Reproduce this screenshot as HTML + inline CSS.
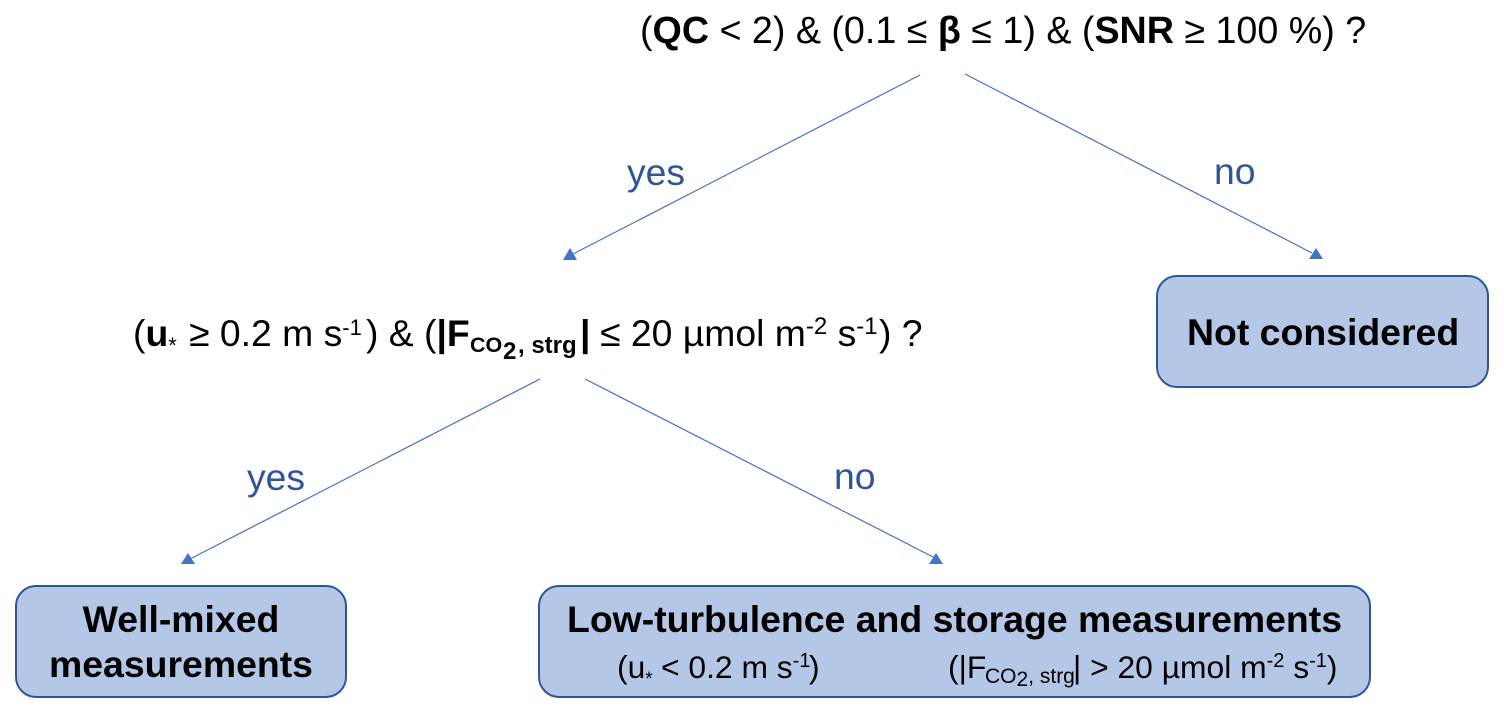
<!DOCTYPE html>
<html><head><meta charset="utf-8">
<style>
html,body{margin:0;padding:0;background:#fff;width:1504px;height:713px;overflow:hidden}
svg{display:block}
text{font-family:"Liberation Sans",sans-serif;fill:#000}
.b{font-weight:bold}
.t{font-size:37.65px}
.m{font-size:37.33px}
.h{font-size:37.4px;font-weight:bold}
.s{font-size:31.8px}
.l{font-size:37.33px;fill:#2f5597}
</style></head><body>
<svg width="1504" height="713" viewBox="0 0 1504 713" xmlns="http://www.w3.org/2000/svg">
<g fill="#b4c7e7" stroke="#2f5597" stroke-width="2">
<rect x="1157" y="276" width="331" height="111" rx="20"/>
<rect x="16" y="586" width="330" height="111" rx="20"/>
<rect x="539" y="586" width="831" height="111" rx="20"/>
</g>
<g stroke="#4472c4" stroke-width="1.2">
<line x1="920" y1="75" x2="573" y2="254"/>
<line x1="965" y1="74" x2="1312" y2="253"/>
<line x1="540" y1="379" x2="190" y2="559"/>
<line x1="585" y1="379" x2="935" y2="558"/>
</g>
<g fill="#4472c4">
<polygon points="570,248 563,260 577,260"/>
<polygon points="1316,248 1309,259 1323,259"/>
<polygon points="188,553 181,564 195,564"/>
<polygon points="936,553 929,564 943,564"/>
</g>
<text class="t" x="640" y="43">(<tspan class="b">QC</tspan> &lt; 2) &amp; (0.1 ≤ <tspan class="b">β</tspan> ≤ 1) &amp; (<tspan class="b">SNR</tspan> ≥ 100 %) ?</text>
<text class="m" x="133" y="346">(<tspan class="b">u</tspan><tspan font-size="22" dy="7">*</tspan><tspan x="189" dy="-7">≥ 0.2 m s</tspan><tspan font-size="22" dy="-11">-1</tspan><tspan x="366" dy="11">) &amp;</tspan><tspan x="424">(</tspan><tspan class="b">|F</tspan><tspan class="b" font-size="21.5" x="470" dy="6">CO</tspan><tspan class="b" font-size="24" x="503" dy="7">2</tspan><tspan class="b" font-size="24" x="518" dy="-6">, strg</tspan><tspan class="b" x="580" dy="-7">|</tspan><tspan x="600">≤ 20 µmol m</tspan><tspan font-size="24" dy="-12">-2</tspan><tspan dy="12"> s</tspan><tspan font-size="24" dy="-12">-1</tspan><tspan x="879" dy="12">) ?</tspan></text>
<text class="l" x="627" y="185">yes</text>
<text class="l" x="1214" y="184">no</text>
<text class="l" x="247" y="490">yes</text>
<text class="l" x="834" y="489">no</text>
<text class="h" x="1187" y="345">Not considered</text>
<text class="h" x="181" y="632" text-anchor="middle">Well-mixed</text>
<text class="h" x="181" y="677" text-anchor="middle">measurements</text>
<text class="h" x="567" y="632">Low-turbulence and storage measurements</text>
<text class="s" x="617" y="678">(u<tspan font-size="19" dy="7">*</tspan><tspan x="661" dy="-7">&lt; 0.2 m s</tspan><tspan font-size="20" dy="-11">-1</tspan><tspan x="809" dy="11">)</tspan></text>
<text class="s" x="948" y="678">(|F<tspan font-size="21" x="985" dy="5">CO</tspan><tspan font-size="21" dy="3">2</tspan><tspan font-size="21" dy="-3">, strg</tspan><tspan x="1073" dy="-5">| &gt; 20 µmol m</tspan><tspan font-size="20" dy="-11">-2</tspan><tspan dy="11"> s</tspan><tspan font-size="20" dy="-11">-1</tspan><tspan dy="11">)</tspan></text>
</svg>
</body></html>
